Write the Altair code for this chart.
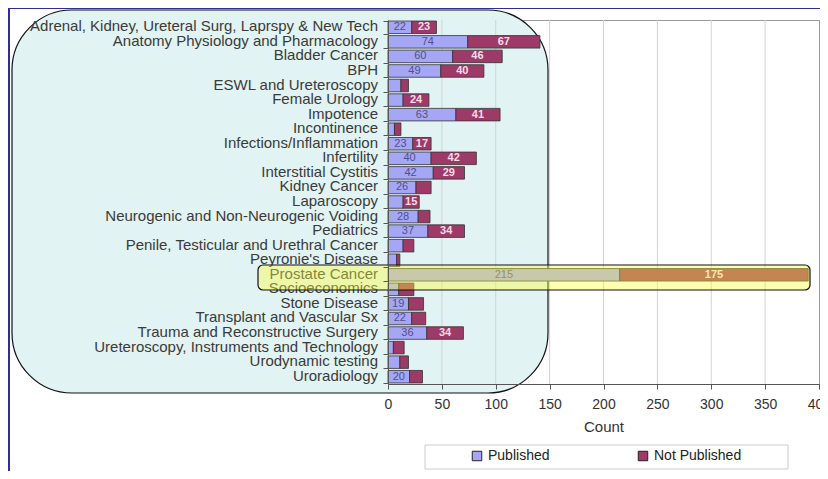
import altair as alt
import pandas as pd

# ---------------- data ----------------
categories = [
    "Adrenal, Kidney, Ureteral Surg, Laprspy & New Tech",
    "Anatomy Physiology and Pharmacology",
    "Bladder Cancer",
    "BPH",
    "ESWL and Ureteroscopy",
    "Female Urology",
    "Impotence",
    "Incontinence",
    "Infections/Inflammation",
    "Infertility",
    "Interstitial Cystitis",
    "Kidney Cancer",
    "Laparoscopy",
    "Neurogenic and Non-Neurogenic Voiding",
    "Pediatrics",
    "Penile, Testicular and Urethral Cancer",
    "Peyronie's Disease",
    "Prostate Cancer",
    "Socioeconomics",
    "Stone Disease",
    "Transplant and Vascular Sx",
    "Trauma and Reconstructive Surgery",
    "Ureteroscopy, Instruments and Technology",
    "Urodynamic testing",
    "Uroradiology",
]
published = [22, 74, 60, 49, 12, 14, 63, 6, 23, 40, 42, 26, 14, 28, 37, 14, 8, 215, 10, 19, 22, 36, 5, 11, 20]
not_published = [23, 67, 46, 40, 7, 24, 41, 6, 17, 42, 29, 14, 15, 11, 34, 10, 3, 175, 14, 14, 13, 34, 10, 8, 12]
series = ["Published", "Not Published"]
series_colors = ["#a6a6f6", "#9e3a68"]
x_ticks = [0, 50, 100, 150, 200, 250, 300, 350, 400]
grid_ticks = [50, 100, 150, 200, 250, 300, 350]

rows = []
for c, p, n in zip(categories, published, not_published):
    rows.append({"Topic": c, "Status": series[0], "Count": p, "order": 0})
    rows.append({"Topic": c, "Status": series[1], "Count": n, "order": 1})
df = pd.DataFrame(rows)
cat_df = pd.DataFrame({"Topic": categories})
grid_df = pd.DataFrame({"tick": grid_ticks})
one = pd.DataFrame({"k": [1]})

FONT = "Liberation Sans"
W, H = 431, 364

x_scale = alt.Scale(domain=[0, 400], nice=False)
y_scale = alt.Scale(domain=categories, paddingInner=0.14, paddingOuter=0.07)

y_axis = alt.Axis(title=None, labels=False, ticks=True, tickBand="extent", tickSize=5,
                  tickColor="#555", domainColor="#555", grid=False, zindex=1)
x_axis = alt.Axis(values=x_ticks, tickSize=5, tickColor="#555", domainColor="#555",
                  labelFont=FONT, labelFontSize=14, labelColor="#333", labelPadding=8,
                  labelFlush=False, grid=False, title="Count", titleFont=FONT,
                  titleFontSize=15, titleFontWeight="normal", titleColor="#333",
                  titlePadding=8, zindex=1)

# navy frame strips
navy_left = alt.Chart(one).mark_rect(fill="#2d3091").encode(
    x=alt.value(-380), x2=alt.value(-378), y=alt.value(-12), y2=alt.value(460))
navy_top = alt.Chart(one).mark_rect(fill="#2d3091").encode(
    x=alt.value(-380), x2=alt.value(432), y=alt.value(-12), y2=alt.value(-11))

# rounded callout panel
panel = alt.Chart(one).mark_rect(cornerRadius=60, fill="#e2f3f3", stroke="#111",
                                 strokeWidth=1.2).encode(
    x=alt.value(-376), x2=alt.value(160), y=alt.value(-10), y2=alt.value(373))

grid = alt.Chart(grid_df).mark_rule(color="#d2d2d2", strokeWidth=1).encode(
    x=alt.X("tick:Q", scale=x_scale, axis=x_axis))

bars = alt.Chart(df).mark_bar(stroke="#333", strokeWidth=0.8).encode(
    y=alt.Y("Topic:N", sort=categories, scale=y_scale, axis=y_axis),
    x=alt.X("Count:Q", stack="zero", scale=x_scale, axis=x_axis),
    color=alt.Color("Status:N", scale=alt.Scale(domain=series, range=series_colors),
                    legend=alt.Legend(title=None, orient="none", legendX=82, legendY=429,
                                      direction="horizontal", symbolType="square",
                                      symbolSize=90, symbolStrokeColor="#222",
                                      symbolStrokeWidth=1, labelFont=FONT,
                                      labelFontSize=14, labelColor="#222",
                                      columnPadding=86, labelOffset=4, padding=0)),
    order=alt.Order("order:Q"),
)

base_lbl = alt.Chart(df).transform_stack(
    stack="Count", groupby=["Topic"], as_=["x0", "x1"],
    sort=[alt.SortField("order", order="ascending")]
).transform_calculate(xm="(datum.x0 + datum.x1) / 2").transform_filter("datum.Count >= 15")

pub_lbl = base_lbl.transform_filter(f"datum.Status == '{series[0]}'").mark_text(
    font=FONT, fontSize=11, color="#50508a").encode(
    x=alt.X("xm:Q", scale=x_scale), y=alt.Y("Topic:N", sort=categories, scale=y_scale),
    text="Count:Q")
np_lbl = base_lbl.transform_filter(f"datum.Status == '{series[1]}'").mark_text(
    font=FONT, fontSize=11, fontWeight="bold", color="#f6dcea").encode(
    x=alt.X("xm:Q", scale=x_scale), y=alt.Y("Topic:N", sort=categories, scale=y_scale),
    text="Count:Q")

cat_labels = alt.Chart(cat_df).mark_text(font=FONT, fontSize=15, color="#3a3a3a",
                                         align="right", baseline="middle", dy=-1).encode(
    x=alt.value(-10), y=alt.Y("Topic:N", sort=categories, scale=y_scale), text="Topic:N")

highlight = alt.Chart(one).mark_rect(cornerRadius=5, fill="#ffff33", fillOpacity=0.38,
                                     stroke="#111", strokeWidth=1.2).encode(
    x=alt.value(-130), x2=alt.value(422), y=alt.value(245), y2=alt.value(270))

legend_box = alt.Chart(one).mark_rect(fill="white", fillOpacity=0, stroke="#cccccc",
                                      strokeWidth=1).encode(
    x=alt.value(37), x2=alt.value(400), y=alt.value(425), y2=alt.value(449))

chart = alt.layer(
    navy_left, navy_top, panel, grid, bars, pub_lbl, np_lbl, cat_labels, highlight, legend_box
).properties(
    width=W, height=H,
    autosize=alt.AutoSizeParams(type="none"),
    padding={"left": 380, "top": 12, "right": 1, "bottom": 87},
    background="white",
).configure_view(stroke="#999", strokeWidth=1)

chart.save("out.html", embed_options={"renderer": "svg", "actions": False})
